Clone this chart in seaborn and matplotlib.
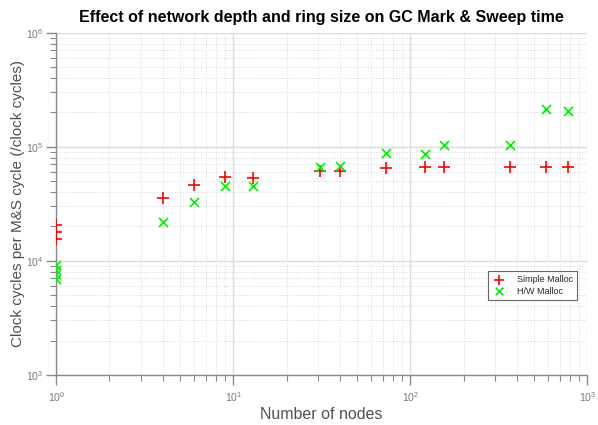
import numpy as np
import pandas as pd
import matplotlib
matplotlib.use("Agg")
import matplotlib.pyplot as plt
from matplotlib.ticker import LogLocator, LogFormatterSciNotation, NullFormatter
import seaborn as sns

# Node counts (complete trees of branching 3, 5 and 8) and GC mark & sweep cost
simple_nodes = [1, 1, 1, 4, 6, 9, 13, 31, 40, 73, 121, 156, 364, 585, 781]
simple_cycles = [20700, 17900, 15600, 35900, 45800, 54200, 53100, 61900, 61900,
                 65000, 65800, 65800, 66000, 66000, 66000]

hw_nodes = [1, 1, 1, 1, 4, 6, 9, 13, 31, 40, 73, 121, 156, 364, 585, 781]
hw_cycles = [9230, 8340, 7690, 6950, 21800, 33100, 45500, 44900, 67100, 68500,
             88100, 86300, 104000, 103000, 214000, 206000]

series_names = ["Simple Malloc", "H/W Malloc"]

df = pd.concat([
    pd.DataFrame({"nodes": simple_nodes, "cycles": simple_cycles, "allocator": series_names[0]}),
    pd.DataFrame({"nodes": hw_nodes, "cycles": hw_cycles, "allocator": series_names[1]}),
], ignore_index=True)

sns.set_theme(style="white")
plt.rcParams["font.family"] = ["Liberation Sans", "DejaVu Sans"]
plt.rcParams["mathtext.default"] = "regular"

fig = plt.figure(figsize=(5.98, 4.25), dpi=100)
ax = fig.add_axes([0.094, 0.118, 0.888, 0.805])

styles = {series_names[0]: ("+", "#ff0000", 75), series_names[1]: ("x", "#00ee00", 42)}
for name, (mk, col, size) in styles.items():
    sub = df[df["allocator"] == name]
    sns.scatterplot(data=sub, x="nodes", y="cycles", marker=mk, color=col, s=size,
                    linewidth=1.2, ax=ax, label=name, zorder=3)

ax.set_xscale("log")
ax.set_yscale("log")
ax.set_xlim(1, 1000)
ax.set_ylim(1e3, 1e6)

for axis in (ax.xaxis, ax.yaxis):
    axis.set_major_locator(LogLocator(base=10, numticks=10))
    axis.set_minor_locator(LogLocator(base=10, subs=np.arange(2, 10), numticks=20))
    axis.set_major_formatter(LogFormatterSciNotation())
    axis.set_minor_formatter(NullFormatter())

ax.grid(True, which="major", color="#dcdcdc", linewidth=1.0, linestyle="-")
ax.grid(True, which="minor", color="#d8d8d8", linewidth=0.7, linestyle=":")
ax.set_axisbelow(True)

for side in ("top", "right"):
    ax.spines[side].set_visible(False)
for side in ("left", "bottom"):
    ax.spines[side].set_color("#8a8a8a")
    ax.spines[side].set_linewidth(1.0)

ax.tick_params(which="major", direction="out", length=7, width=1, color="#8a8a8a",
               labelsize=7.5, labelcolor="#7a7a7a", bottom=True, left=True)
ax.tick_params(which="minor", direction="out", length=4, width=0.8, color="#8a8a8a",
               bottom=True, left=True)
ax.tick_params(axis="x", which="major", pad=4)
ax.tick_params(axis="y", which="major", pad=2)

ax.set_xlabel("Number of nodes", fontsize=11.5, color="#505050", labelpad=2)
ax.set_ylabel("Clock cycles per M&S cycle (/clock cycles)", fontsize=11, color="#505050", labelpad=1)
ax.set_title("Effect of network depth and ring size on GC Mark & Sweep time",
             fontsize=11.5, fontweight="bold", color="black", pad=8)

leg = ax.legend(loc="upper right", bbox_to_anchor=(0.99, 0.318), fontsize=6.5,
                frameon=True, fancybox=False, borderpad=0.5, handletextpad=1.2,
                labelspacing=0.3, handlelength=1.5, markerscale=0.85)
leg.get_frame().set_edgecolor("#404040")
leg.get_frame().set_linewidth(0.8)

fig.savefig("out.png", dpi=100)
